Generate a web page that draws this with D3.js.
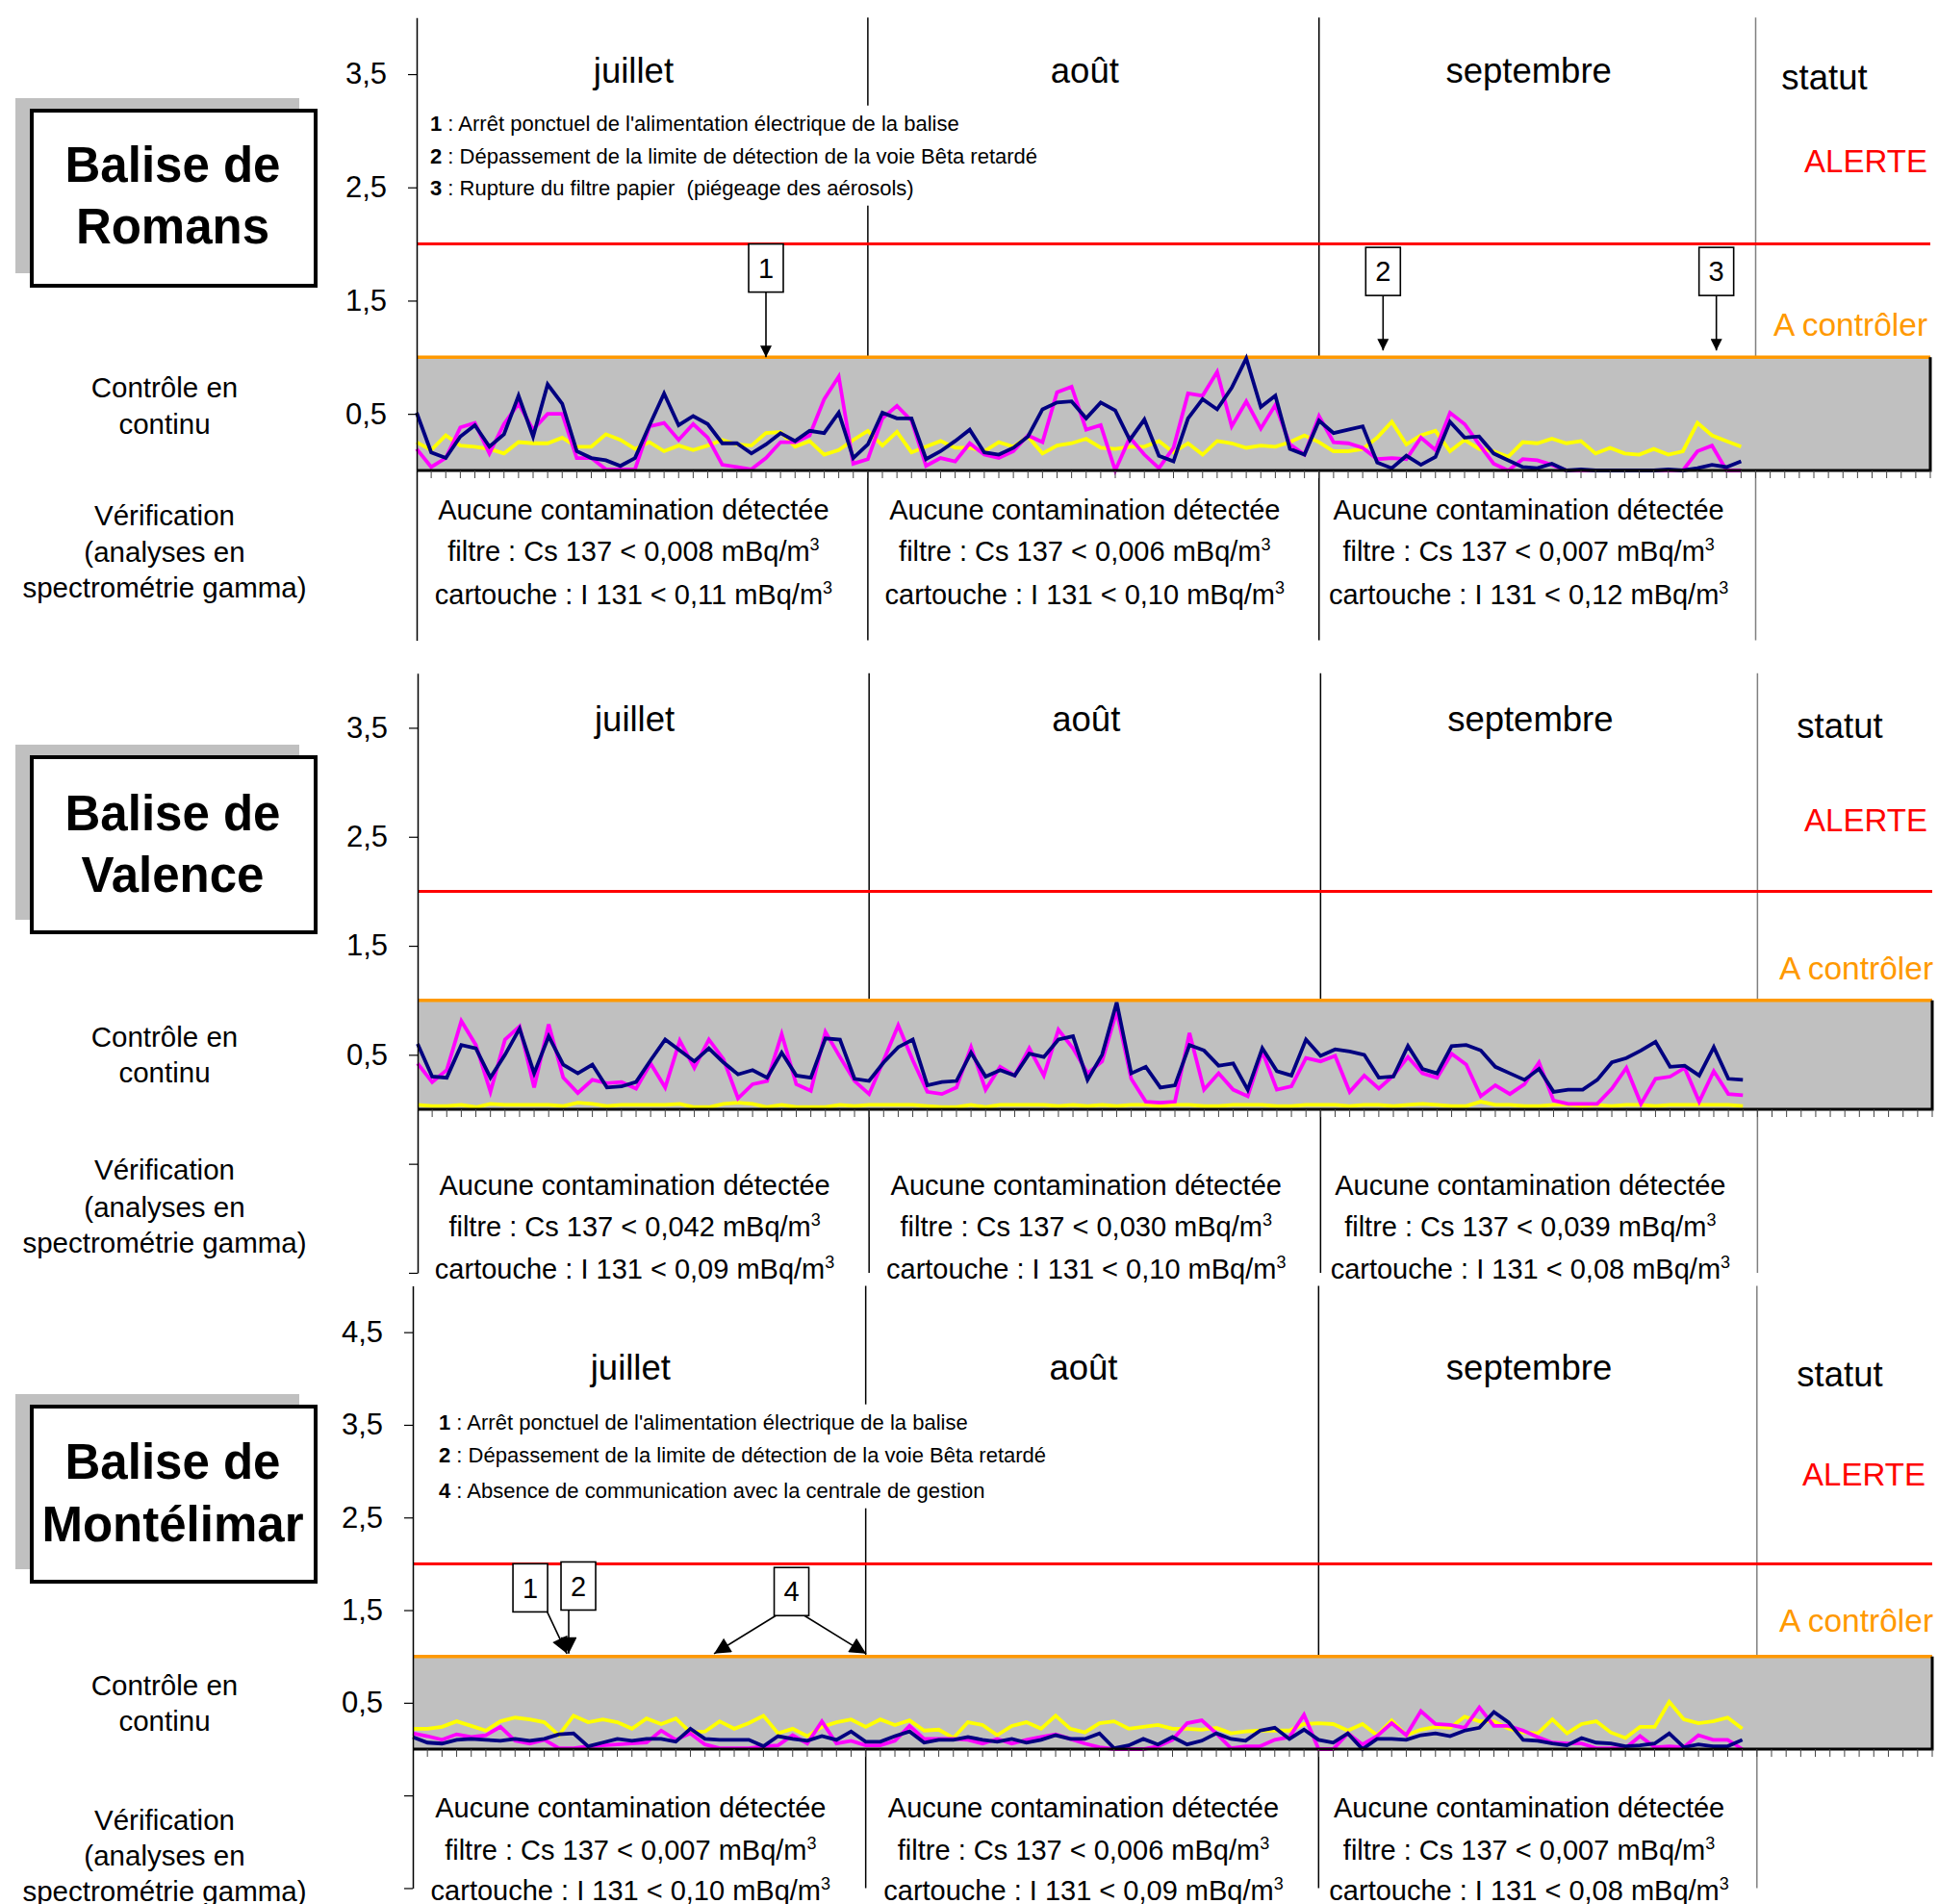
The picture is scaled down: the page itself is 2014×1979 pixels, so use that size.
<!DOCTYPE html>
<html>
<head>
<meta charset="utf-8">
<script src="https://cdn.jsdelivr.net/npm/d3@7"></script>
<style>
  body { margin: 0; background: #fff; }
  svg { display: block; font-family: "Liberation Sans", Arial, sans-serif; }
  text { white-space: pre; }
</style>
</head>
<body>
<svg id="chart" width="2014" height="1979"></svg>
<script>
// ---- data ----
const months = ["juillet", "août", "septembre"];
const monthDays = [31, 31, 30];
const statusDays = 12; // colonne "statut"

const ticksRomans = [0.5, 1.5, 2.5, 3.5];
const ticksValence = [-1.5, -0.5, 0.5, 1.5, 2.5, 3.5];
const ticksMontelimar = [-1.5, -0.5, 0.5, 1.5, 2.5, 3.5, 4.5];

const romansNavy = [0.51,0.16,0.11,0.30,0.40,0.21,0.32,0.66,0.30,0.76,0.59,0.17,0.11,0.09,0.04,0.11,0.40,0.68,0.40,0.48,0.41,0.24,0.24,0.15,0.23,0.33,0.26,0.35,0.33,0.51,0.11,0.23,0.51,0.46,0.46,0.10,0.17,0.26,0.36,0.16,0.14,0.20,0.30,0.54,0.60,0.61,
  0.46,0.60,0.53,0.27,0.45,0.13,0.08,0.46,0.63,0.54,0.73,0.99,0.56,0.66,0.19,0.14,0.44,0.33,0.36,0.39,0.07,0.02,0.13,0.05,0.12,0.43,0.29,0.30,0.15,0.09,0.03,0.02,0.06,0.00,0.01,0.00,0.00,0.00,0.00,0.00,0.01,0.00,0.02,0.05,0.03,0.08];
const romansMagenta = [0.19,0.03,0.11,0.38,0.42,0.15,0.41,0.59,0.36,0.50,0.50,0.11,0.11,0.01,0.01,0.01,0.39,0.42,0.27,0.41,0.29,0.05,0.03,0.01,0.11,0.25,0.25,0.31,0.63,0.83,0.06,0.10,0.46,0.57,0.44,0.04,0.11,0.08,0.24,0.14,0.11,0.17,0.31,0.25,0.69,0.74,
  0.36,0.40,0.00,0.29,0.14,0.02,0.20,0.68,0.66,0.87,0.39,0.61,0.37,0.58,0.23,0.14,0.48,0.25,0.24,0.20,0.10,0.11,0.10,0.29,0.18,0.51,0.41,0.23,0.06,0.00,0.10,0.09,0.05,0.00,0.00,0.00,0.00,0.00,0.00,0.00,0.00,0.00,0.17,0.22,0.00,0.00];
const romansYellow = [0.25,0.18,0.31,0.22,0.21,0.19,0.15,0.25,0.24,0.24,0.29,0.21,0.21,0.32,0.27,0.19,0.25,0.17,0.22,0.18,0.22,0.27,0.23,0.22,0.33,0.34,0.21,0.26,0.14,0.18,0.27,0.35,0.22,0.34,0.16,0.21,0.26,0.20,0.20,0.17,0.25,0.21,0.30,0.15,0.22,0.24,
  0.28,0.20,0.19,0.21,0.21,0.26,0.16,0.24,0.14,0.26,0.24,0.20,0.22,0.21,0.25,0.31,0.25,0.17,0.17,0.19,0.29,0.43,0.23,0.31,0.35,0.17,0.27,0.19,0.17,0.12,0.25,0.24,0.28,0.24,0.26,0.15,0.20,0.15,0.14,0.19,0.14,0.17,0.42,0.31,0.26,0.21];

const valenceNavy = [0.60,0.30,0.29,0.59,0.56,0.29,0.50,0.74,0.33,0.67,0.41,0.33,0.41,0.20,0.21,0.25,0.45,0.64,0.54,0.44,0.56,0.43,0.32,0.36,0.29,0.52,0.31,0.29,0.65,0.64,0.28,0.26,0.43,0.57,0.64,0.22,0.25,0.26,0.52,0.30,0.36,0.31,0.51,0.48,0.64,0.67,
  0.27,0.50,0.98,0.33,0.39,0.20,0.22,0.59,0.54,0.40,0.42,0.18,0.56,0.35,0.31,0.64,0.49,0.55,0.53,0.50,0.29,0.30,0.58,0.37,0.33,0.58,0.59,0.54,0.39,0.33,0.27,0.37,0.16,0.18,0.18,0.27,0.43,0.47,0.54,0.62,0.39,0.40,0.31,0.57,0.28,0.27];
const valenceMagenta = [0.42,0.25,0.36,0.81,0.59,0.16,0.64,0.76,0.20,0.78,0.29,0.15,0.27,0.24,0.25,0.19,0.42,0.20,0.63,0.38,0.64,0.46,0.10,0.23,0.26,0.69,0.23,0.17,0.71,0.48,0.26,0.14,0.45,0.77,0.45,0.16,0.14,0.20,0.57,0.18,0.39,0.31,0.56,0.31,0.73,0.56,
  0.33,0.44,0.90,0.28,0.07,0.06,0.07,0.70,0.18,0.33,0.18,0.12,0.53,0.18,0.21,0.47,0.44,0.49,0.16,0.31,0.19,0.31,0.48,0.33,0.29,0.51,0.41,0.12,0.22,0.14,0.23,0.43,0.08,0.05,0.05,0.05,0.19,0.38,0.05,0.28,0.30,0.38,0.07,0.35,0.14,0.13];
const valenceYellow = [0.04,0.03,0.03,0.04,0.02,0.05,0.04,0.04,0.04,0.04,0.03,0.06,0.05,0.03,0.04,0.04,0.04,0.04,0.05,0.02,0.02,0.05,0.06,0.05,0.02,0.04,0.02,0.02,0.02,0.04,0.03,0.04,0.04,0.04,0.04,0.03,0.02,0.02,0.04,0.02,0.04,0.04,0.04,0.04,0.03,0.04,
  0.03,0.04,0.03,0.04,0.04,0.03,0.04,0.04,0.03,0.03,0.04,0.04,0.04,0.03,0.03,0.04,0.04,0.04,0.03,0.04,0.04,0.03,0.04,0.05,0.04,0.03,0.03,0.07,0.04,0.04,0.03,0.03,0.04,0.04,0.03,0.04,0.03,0.04,0.04,0.03,0.04,0.04,0.04,0.04,0.04,0.03];

const montelimarNavy = [0.13,0.07,0.06,0.10,0.11,0.10,0.09,0.11,0.09,0.11,0.16,0.17,0.03,0.07,0.11,0.09,0.11,0.11,0.08,0.22,0.11,0.10,0.10,0.10,0.03,0.14,0.11,0.09,0.14,0.10,0.19,0.08,0.08,0.14,0.19,0.07,0.10,0.10,0.13,0.10,0.08,0.11,0.07,0.10,0.15,0.11,
  0.11,0.17,0.01,0.04,0.11,0.05,0.13,0.05,0.09,0.17,0.11,0.09,0.20,0.23,0.11,0.21,0.10,0.07,0.17,0.00,0.11,0.11,0.10,0.15,0.17,0.14,0.20,0.23,0.40,0.29,0.10,0.09,0.06,0.04,0.12,0.07,0.06,0.03,0.04,0.06,0.17,0.02,0.05,0.03,0.03,0.10];
const montelimarMagenta = [0.17,0.14,0.10,0.16,0.13,0.15,0.24,0.09,0.06,0.10,0.01,0.01,0.03,0.04,0.05,0.06,0.07,0.20,0.10,0.17,0.05,0.01,0.01,0.01,0.03,0.04,0.15,0.06,0.30,0.06,0.09,0.04,0.04,0.09,0.25,0.11,0.11,0.11,0.10,0.06,0.11,0.06,0.10,0.13,0.16,0.11,
  0.06,0.02,0.00,0.00,0.00,0.03,0.10,0.28,0.31,0.17,0.01,0.03,0.03,0.10,0.13,0.37,0.00,0.00,0.17,0.05,0.14,0.28,0.15,0.41,0.27,0.26,0.23,0.45,0.25,0.25,0.20,0.13,0.07,0.06,0.06,0.01,0.01,0.01,0.14,0.02,0.03,0.02,0.15,0.10,0.10,0.00];
const montelimarYellow = [0.22,0.22,0.24,0.30,0.25,0.20,0.30,0.34,0.32,0.29,0.15,0.36,0.29,0.32,0.29,0.22,0.33,0.27,0.33,0.18,0.19,0.30,0.22,0.28,0.36,0.17,0.22,0.14,0.24,0.29,0.32,0.24,0.32,0.26,0.31,0.20,0.21,0.12,0.29,0.26,0.15,0.25,0.29,0.22,0.36,0.22,
  0.18,0.28,0.30,0.22,0.24,0.26,0.22,0.22,0.21,0.23,0.17,0.19,0.20,0.20,0.20,0.27,0.28,0.27,0.20,0.27,0.15,0.31,0.15,0.21,0.24,0.23,0.35,0.30,0.30,0.22,0.18,0.17,0.32,0.17,0.27,0.30,0.18,0.12,0.24,0.24,0.51,0.32,0.28,0.30,0.34,0.22];

const romansFiltre = ["0,008", "0,006", "0,007"];
const romansCartouche = ["0,11", "0,10", "0,12"];
const valenceFiltre = ["0,042", "0,030", "0,039"];
const valenceCartouche = ["0,09", "0,10", "0,08"];
const montelimarFiltre = ["0,007", "0,006", "0,007"];
const montelimarCartouche = ["0,10", "0,09", "0,08"];

const romansNotes = [
  ["1", "Arrêt ponctuel de l'alimentation électrique de la balise"],
  ["2", "Dépassement de la limite de détection de la voie Bêta retardé"],
  ["3", "Rupture du filtre papier  (piégeage des aérosols)"]
];
const montelimarNotes = [
  ["1", "Arrêt ponctuel de l'alimentation électrique de la balise"],
  ["2", "Dépassement de la limite de détection de la voie Bêta retardé"],
  ["4", "Absence de communication avec la centrale de gestion"]
];

const seriesColors = ["#000080", "#ff00ff", "#ffff00"];
const alertLevel = 2;
const controlLevel = 1;

// ---- layout of the three panels ----
const panels = [
  {
    title: ["Balise de", "Romans"], series: [romansYellow, romansMagenta, romansNavy],
    ticks: ticksRomans, filtre: romansFiltre, cartouche: romansCartouche, notes: romansNotes,
    x0: 433, x1: 2006, zero: 489, unit: 117.7, yMax: 4,
    monthY: 73, statutX: 1896, statutY: 80, alerteX: 1939, alerteY: 167, controlX: 1923, controlY: 337,
    notesX: 447, notesY: [128, 162, 195], verifY: [530, 573, 618],
    boxY: 115, titleY: [171, 235], contY: [403, 441], verifLabelY: [536, 574, 611],
    head: "arrowS",
    callouts: [
      { label: "1", bx: 24.0, by: 2.0, arrows: [[24.0, 24.0, 1.0]] },
      { label: "2", bx: 66.4, by: 1.97, arrows: [[66.4, 66.4, 1.06]] },
      { label: "3", bx: 89.3, by: 1.97, arrows: [[89.3, 89.3, 1.06]] }
    ]
  },
  {
    title: ["Balise de", "Valence"], series: [valenceYellow, valenceMagenta, valenceNavy],
    ticks: ticksValence, filtre: valenceFiltre, cartouche: valenceCartouche, notes: [],
    x0: 434, x1: 2008, zero: 1153, unit: 113.3, yMax: 4,
    monthY: 747, statutX: 1912, statutY: 754, alerteX: 1939, alerteY: 852, controlX: 1929, controlY: 1006,
    notesX: 0, notesY: [], verifY: [1232, 1275, 1319],
    boxY: 787, titleY: [845, 909], contY: [1078, 1115], verifLabelY: [1216, 1255, 1292],
    head: "arrowS",
    callouts: []
  },
  {
    title: ["Balise de", "Montélimar"], series: [montelimarYellow, montelimarMagenta, montelimarNavy],
    ticks: ticksMontelimar, filtre: montelimarFiltre, cartouche: montelimarCartouche, notes: montelimarNotes,
    x0: 429, x1: 2008, zero: 1818, unit: 96.3, yMax: 5,
    monthY: 1421, statutX: 1912, statutY: 1428, alerteX: 1937, alerteY: 1532, controlX: 1929, controlY: 1684,
    notesX: 456, notesY: [1478, 1512, 1549], verifY: [1879, 1923, 1965],
    boxY: 1462, titleY: [1519, 1584], contY: [1752, 1789], verifLabelY: [1892, 1929, 1966],
    head: "arrowL",
    callouts: [
      { label: "1", bx: 8.04, by: 2.0, arrows: [[9.2, 10.55, 1.03]] },
      { label: "2", bx: 11.33, by: 2.02, arrows: [[10.67, 10.67, 1.03]] },
      { label: "4", bx: 25.92, by: 1.96, arrows: [[24.85, 20.62, 1.03], [26.8, 31.03, 1.03]] }
    ]
  }
];

const svg = d3.select("#chart");
const defs = svg.append("defs");

function addMarker(id, w, h) {
  defs.append("marker")
    .attr("id", id)
    .attr("viewBox", "0 0 10 10")
    .attr("refX", 10).attr("refY", 5)
    .attr("markerWidth", w).attr("markerHeight", h)
    .attr("markerUnits", "userSpaceOnUse")
    .attr("orient", "auto")
    .append("path").attr("d", "M0,0L10,5L0,10z").attr("fill", "#000");
}
addMarker("arrowS", 15, 12);
addMarker("arrowL", 22, 17);

const frLocale = d3.formatLocale({ decimal: ",", thousands: "\u00a0", grouping: [3], currency: ["", " €"] });
const fmt = frLocale.format(".1f");

const totalDays = d3.sum(monthDays) + statusDays;
const monthStarts = d3.cumsum([0].concat(monthDays)); // 0,31,62,92

function drawPanel(p) {
  const g = svg.append("g");
  const x = d3.scaleLinear().domain([0, totalDays]).range([p.x0, p.x1]);
  const y = d3.scaleLinear().domain([-1.5, p.yMax])
    .range([p.zero + 1.5 * p.unit, p.zero - p.yMax * p.unit]);

  // month separators (behind everything)
  g.selectAll(".sep").data(monthStarts.slice(1))
    .join("line")
    .attr("x1", d => x(d)).attr("x2", d => x(d))
    .attr("y1", y(p.yMax)).attr("y2", y(-1.5))
    .attr("stroke", (d, i) => i === 2 ? "#808080" : "#000")
    .attr("stroke-width", 1.5);

  // notes with white backing
  if (p.notes.length) {
    const ng = g.append("g");
    const nt = ng.selectAll("text").data(p.notes).join("text")
      .attr("x", p.notesX).attr("y", (d, i) => p.notesY[i])
      .attr("dy", "0.35em")
      .attr("font-size", 22)
      .attr("fill", "#000");
    nt.append("tspan").attr("font-weight", "bold").text(d => d[0]);
    nt.append("tspan").text(d => " : " + d[1]);
    const bb = ng.node().getBBox();
    ng.insert("rect", "text")
      .attr("x", bb.x - 4).attr("y", bb.y - 6)
      .attr("width", bb.width + 10).attr("height", bb.height + 12)
      .attr("fill", "#fff");
  }

  // grey band between 0 and the control level
  g.append("rect")
    .attr("x", x(0)).attr("y", y(controlLevel))
    .attr("width", x(totalDays) - x(0)).attr("height", y(0) - y(controlLevel))
    .attr("fill", "#c0c0c0");

  // alert and control lines
  g.append("line")
    .attr("x1", x(0)).attr("x2", x(totalDays))
    .attr("y1", y(alertLevel)).attr("y2", y(alertLevel))
    .attr("stroke", "#ff0000").attr("stroke-width", 3);
  g.append("line")
    .attr("x1", x(0)).attr("x2", x(totalDays))
    .attr("y1", y(controlLevel)).attr("y2", y(controlLevel))
    .attr("stroke", "#ff9900").attr("stroke-width", 3.5);

  // measured series
  const line = d3.line().x((d, i) => x(i)).y(d => y(d));
  const colorOrder = [seriesColors[2], seriesColors[1], seriesColors[0]];
  g.selectAll(".serie").data(p.series).join("path")
    .attr("d", line)
    .attr("fill", "none")
    .attr("stroke", (d, i) => colorOrder[i])
    .attr("stroke-width", 3.8)
    .attr("stroke-linejoin", "miter");

  // band border (bottom + right)
  g.append("path")
    .attr("d", `M${x(0)},${y(0)}H${x(totalDays)}V${y(controlLevel)}`)
    .attr("fill", "none").attr("stroke", "#000").attr("stroke-width", 3);

  // day ticks
  g.selectAll(".dtick").data(d3.range(1, totalDays + 1))
    .join("line")
    .attr("x1", d => x(d)).attr("x2", d => x(d))
    .attr("y1", y(0)).attr("y2", y(0) + 8)
    .attr("stroke", "#444").attr("stroke-width", 1);

  // y axis
  const axis = d3.axisLeft(y).tickValues(p.ticks).tickSize(9).tickSizeOuter(0)
    .tickFormat(d => d > 0 ? fmt(d) : "");
  const ax = g.append("g").attr("transform", `translate(${x(0)},0)`).call(axis);
  ax.select(".domain").attr("stroke", "#000").attr("stroke-width", 1.5);
  ax.selectAll(".tick line").attr("stroke", "#000").attr("stroke-width", 1.2);
  ax.selectAll(".tick text")
    .attr("x", -31)
    .attr("font-size", 31)
    .attr("font-family", "\"Liberation Sans\", Arial, sans-serif")
    .attr("fill", "#000");

  // month headers
  g.selectAll(".month").data(months).join("text")
    .attr("x", (d, i) => (x(monthStarts[i]) + x(monthStarts[i + 1])) / 2 - 9)
    .attr("y", p.monthY).attr("dy", "0.35em")
    .attr("text-anchor", "middle").attr("font-size", 36.5)
    .text(d => d);
  g.append("text").attr("x", p.statutX).attr("y", p.statutY).attr("dy", "0.35em")
    .attr("text-anchor", "middle").attr("font-size", 36.5).text("statut");
  g.append("text").attr("x", p.alerteX).attr("y", p.alerteY).attr("dy", "0.35em")
    .attr("text-anchor", "middle").attr("font-size", 33).attr("fill", "#ff0000").text("ALERTE");
  g.append("text").attr("x", p.controlX).attr("y", p.controlY).attr("dy", "0.35em")
    .attr("text-anchor", "middle").attr("font-size", 33.5).attr("fill", "#ff9900").text("A contrôler");

  // callouts
  p.callouts.forEach(c => {
    const bw = 36, bh = 50;
    const top = y(c.by);
    c.arrows.forEach(a => {
      g.append("line")
        .attr("x1", x(a[0])).attr("y1", top + bh)
        .attr("x2", x(a[1])).attr("y2", y(a[2]))
        .attr("stroke", "#000").attr("stroke-width", 1.6)
        .attr("marker-end", `url(#${p.head})`);
    });
    g.append("rect")
      .attr("x", x(c.bx) - bw / 2).attr("y", top)
      .attr("width", bw).attr("height", bh)
      .attr("fill", "#fff").attr("stroke", "#000").attr("stroke-width", 1.6);
    g.append("text")
      .attr("x", x(c.bx)).attr("y", top + bh / 2).attr("dy", "0.35em")
      .attr("text-anchor", "middle").attr("font-size", 29).text(c.label);
  });

  // verification results per month
  months.forEach((m, i) => {
    const cx = (x(monthStarts[i]) + x(monthStarts[i + 1])) / 2 - 9;
    g.append("text").attr("x", cx).attr("y", p.verifY[0]).attr("dy", "0.35em")
      .attr("text-anchor", "middle").attr("font-size", 29)
      .text("Aucune contamination détectée");
    const t1 = g.append("text").attr("x", cx).attr("y", p.verifY[1]).attr("dy", "0.35em")
      .attr("text-anchor", "middle").attr("font-size", 29);
    t1.append("tspan").text(`filtre : Cs 137 < ${p.filtre[i]} mBq/m`);
    t1.append("tspan").attr("dy", "-0.6em").attr("font-size", 18).text("3");
    const t2 = g.append("text").attr("x", cx).attr("y", p.verifY[2]).attr("dy", "0.35em")
      .attr("text-anchor", "middle").attr("font-size", 29);
    t2.append("tspan").text(`cartouche : I 131 < ${p.cartouche[i]} mBq/m`);
    t2.append("tspan").attr("dy", "-0.6em").attr("font-size", 18).text("3");
  });

  // left side: title box and row labels
  const bx = 33, bw = 295, bh = 182;
  g.append("rect").attr("x", bx - 17).attr("y", p.boxY - 13)
    .attr("width", bw).attr("height", bh).attr("fill", "#c0c0c0");
  g.append("rect").attr("x", bx).attr("y", p.boxY)
    .attr("width", bw).attr("height", bh)
    .attr("fill", "#fff").attr("stroke", "#000").attr("stroke-width", 4);
  g.selectAll(".title").data(p.title).join("text")
    .attr("x", bx + bw / 2 - 1).attr("y", (d, i) => p.titleY[i]).attr("dy", "0.35em")
    .attr("text-anchor", "middle").attr("font-size", 51).attr("font-weight", "bold")
    .text(d => d);
  g.selectAll(".cont").data(["Contrôle en", "continu"]).join("text")
    .attr("x", 171).attr("y", (d, i) => p.contY[i]).attr("dy", "0.35em")
    .attr("text-anchor", "middle").attr("font-size", 29.5).text(d => d);
  g.selectAll(".verif").data(["Vérification", "(analyses en", "spectrométrie gamma)"]).join("text")
    .attr("x", 171).attr("y", (d, i) => p.verifLabelY[i]).attr("dy", "0.35em")
    .attr("text-anchor", "middle").attr("font-size", 29.5).text(d => d);
}

panels.forEach(drawPanel);
</script>
</body>
</html>
